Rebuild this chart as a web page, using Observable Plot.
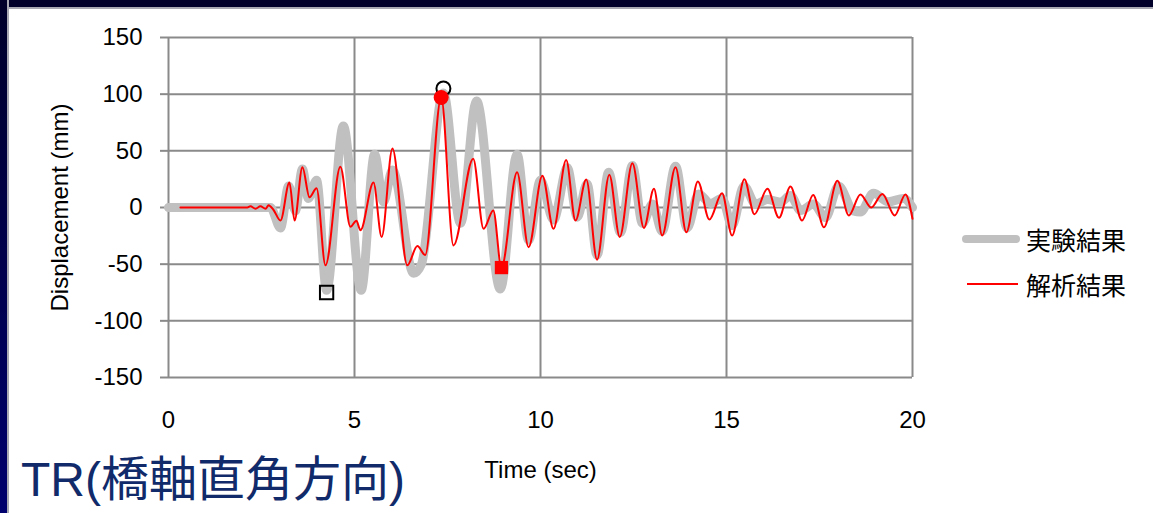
<!DOCTYPE html>
<html>
<head>
<meta charset="utf-8">
<script src="https://cdn.jsdelivr.net/npm/d3@7"></script>
<script src="https://cdn.jsdelivr.net/npm/@observablehq/plot@0.6"></script>
<style>
  html, body { margin: 0; padding: 0; background: #fff; }
  #slide { position: relative; width: 1153px; height: 513px; background: #fff; overflow: hidden;
           font-family: "Liberation Sans", Arial, "Noto Sans CJK JP", sans-serif; }
  #band-top { position: absolute; left: 0; top: 0; width: 1153px; height: 7px; background: #00002a;
              border-bottom: 2px solid #a9a9b4; z-index: 3; }
  #band-left { position: absolute; left: 0; top: 0; width: 7px; height: 513px;
               background: linear-gradient(#00002a, #00006e); border-right: 2px solid #a9a9b4; z-index: 3; }
  #chart { position: absolute; left: 0; top: 0; }
  #legend { position: absolute; left: 960px; top: 216px; font-size: 25px; color: #000;
            font-family: "Noto Sans CJK JP", sans-serif; }
  #legend .row { display: flex; align-items: center; height: 45px; }
  #legend svg { margin-right: 4px; }
  #title { position: absolute; left: 21px; top: 450px; font-size: 48px; line-height: 60px; color: #102a6a;
           font-family: "Liberation Sans", Arial, "Noto Sans CJK JP", sans-serif; white-space: nowrap; }
</style>
</head>
<body>
<div id="slide">
  <div id="band-top"></div>
  <div id="band-left"></div>
  <div id="chart"></div>
  <div id="legend">
    <div class="row"><svg width="62" height="12"><line x1="6" y1="6" x2="56" y2="6" stroke="#c0c0c0" stroke-width="8" stroke-linecap="round"/></svg><span>実験結果</span></div>
    <div class="row"><svg width="62" height="12"><line x1="7" y1="6" x2="58" y2="6" stroke="#ff0000" stroke-width="2"/></svg><span>解析結果</span></div>
  </div>
  <div id="title">TR(橋軸直角方向)</div>
</div>
<script>
// Axis ticks
const xTicks = [0, 5, 10, 15, 20];
const yTicks = [-150, -100, -50, 0, 50, 100, 150];

// 実験結果 (experiment): time [s] and displacement [mm]
const expTime = [0, 2.74, 3.01, 3.23, 3.41, 3.60, 3.76, 3.98, 4.25, 4.70, 5.18, 5.54, 5.78, 6.02, 6.59, 6.80,
  7.39, 7.85, 8.28, 8.92, 9.37, 9.68, 10.00, 10.35, 10.72, 10.99, 11.25, 11.52, 11.83, 12.15, 12.47,
  12.74, 13.01, 13.27, 13.63, 13.94, 14.25, 14.57, 14.88, 15.15, 15.47, 15.78, 16.10, 16.45, 16.72,
  16.99, 17.34, 17.66, 18.01, 18.41, 18.60, 18.95, 19.35, 19.76, 20.0];
const expDisp = [0, 0, -18, 19, -3, 34, 8, 24, -73, 72, -73, 47, 5, 33, -58, -50,
  101, -14, 94, -72, 47, -29, 24, -11, 35, -8.5, 21, -42, 31, -22, 37,
  -14, 3, -21, 36.5, -18, 12, 3.5, 8, -16, 19, 3, 7, 4.7, 10.6,
  -2.6, 3, -9, 19, -3, -4, 12.5, 5, 8, 0];

// 解析結果 (analysis): time [s] and displacement [mm]
const anaTime = [0.32, 2.12, 2.20, 2.34, 2.47, 2.61, 2.69, 2.82, 3.01, 3.25, 3.39, 3.60, 3.79, 3.98, 4.22,
  4.62, 4.89, 5.05, 5.16, 5.51, 5.73, 6.02, 6.42, 6.69, 6.90, 7.33, 7.66, 8.19, 8.47, 8.73, 8.95,
  9.37, 9.68, 10.05, 10.35, 10.69, 10.94, 11.23, 11.52, 11.85, 12.13, 12.47, 12.78, 13.05, 13.27,
  13.63, 13.92, 14.23, 14.54, 14.88, 15.15, 15.48, 15.75, 16.10, 16.41, 16.72, 17.03, 17.33, 17.62,
  17.98, 18.29, 18.60, 18.89, 19.19, 19.52, 19.81, 20.0];
const anaDisp = [0, 0, 1, -1, 1, -1, 2, -2, -11.5, 22, -11.5, 35.6, 9, 17, -51,
  36, -17, -11.6, -20, 22, -26, 52, -51, -34, -42, 97, -33.5, 43, -18.8, -2.6, -53,
  31, -35, 28, -18.8, 42, -11.5, 24.6, -46, 29, -26, 39, -18, 16.5, -24.7,
  35.6, -21.8, 23, -10.6, 12.6, -24.7, 25, -6, 16.5, -9, 18.5, -11.5, 11, -17.5,
  23.5, -7, 11.5, 0, 12, -7, 11.5, -10];

// Extreme values picked out with markers
const expPeakTime = [7.39], expPeakDisp = [105];      // experiment maximum (open circle)
const expTroughTime = [4.25], expTroughDisp = [-75];  // experiment minimum (open square)
const anaPeakTime = [7.33], anaPeakDisp = [97];       // analysis maximum (filled circle)
const anaTroughTime = [8.95], anaTroughDisp = [-53];  // analysis minimum (filled square)

const exp = expTime.map((t, i) => ({t, d: expDisp[i]}));
const ana = anaTime.map((t, i) => ({t, d: anaDisp[i]}));
const pts = (ts, ds) => ts.map((t, i) => ({t, d: ds[i]}));

const gridColor = "#8a8a8a";
const font = "'Liberation Sans', Arial, sans-serif";
const plain = d => String(d); // hyphen-minus for negative ticks

const chart = Plot.plot({
  width: 1153,
  height: 513,
  marginLeft: 168,
  marginRight: 241,
  marginTop: 37,
  marginBottom: 136,
  style: {background: "transparent", fontFamily: font, fontSize: "24px", color: "#000"},
  x: {domain: [0, 20]},
  y: {domain: [-150, 150]},
  marks: [
    Plot.gridX(xTicks, {stroke: gridColor, strokeOpacity: 1, strokeWidth: 2}),
    Plot.gridY(yTicks, {stroke: gridColor, strokeOpacity: 1, strokeWidth: 2}),
    Plot.axisY(yTicks, {tickSize: 8, tickPadding: 18, stroke: gridColor, strokeWidth: 2, fill: "#000",
      fontSize: 24, label: null, tickFormat: plain}),
    Plot.axisX(xTicks, {tickSize: 0, tickPadding: 33, fill: "#000", fontSize: 24, label: null, tickFormat: plain}),
    Plot.text(["Displacement (mm)"], {frameAnchor: "left", dx: -108, rotate: -90, fontSize: 24,
      fill: "#000", textAnchor: "middle", lineAnchor: "middle"}),
    Plot.text(["Time (sec)"], {frameAnchor: "bottom", dy: 93, fontSize: 24, fill: "#000",
      textAnchor: "middle", lineAnchor: "middle"}),
    Plot.line(exp, {x: "t", y: "d", stroke: "#c0c0c0", strokeWidth: 9, curve: "monotone-x",
      strokeLinejoin: "round", strokeLinecap: "round"}),
    Plot.line(ana, {x: "t", y: "d", stroke: "#ff0000", strokeWidth: 2, curve: "monotone-x"}),
    Plot.dot(pts(expPeakTime, expPeakDisp), {x: "t", y: "d", r: 7, symbol: "circle", fill: "none",
      stroke: "#000", strokeWidth: 2}),
    Plot.dot(pts(expTroughTime, expTroughDisp), {x: "t", y: "d", r: 7.5, symbol: "square", fill: "none",
      stroke: "#000", strokeWidth: 2}),
    Plot.dot(pts(anaPeakTime, anaPeakDisp), {x: "t", y: "d", r: 7.5, symbol: "circle", fill: "#ff0000",
      stroke: "none"}),
    Plot.dot(pts(anaTroughTime, anaTroughDisp), {x: "t", y: "d", r: 7.5, symbol: "square", fill: "#ff0000",
      stroke: "none"})
  ]
});
document.getElementById("chart").appendChild(chart);
</script>
</body>
</html>
